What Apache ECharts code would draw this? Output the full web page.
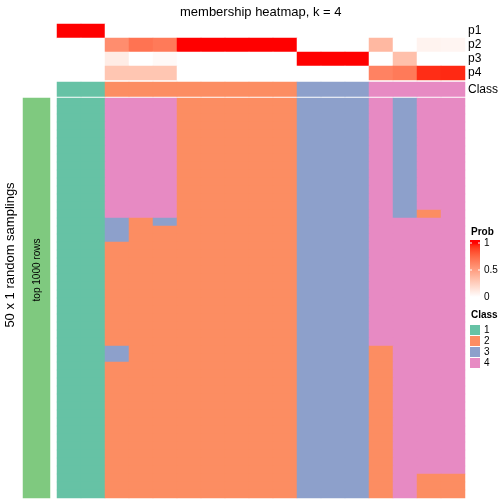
<!DOCTYPE html>
<html><head><meta charset="utf-8">
<script src="https://cdn.jsdelivr.net/npm/echarts@6/dist/echarts.min.js"></script>
<style>html,body{margin:0;padding:0;background:#fff}#c{width:504px;height:504px}</style>
</head><body><div id="c"></div>
<script>
// ---------- data ----------
const columns = ['s1','s2','s3','s4','s5','s6','s7','s8','s9','s10','s11','s12','s13','s14','s15','s16','s17'];
const probNames = ['p1','p2','p3','p4'];
const p1 = [1,1,0,0,0,0,0,0,0,0,0,0,0,0,0,0,0];
const p2 = [0,0,0.58,0.70,0.67,1,1,1,1,1,0,0,0,0.37,0,0.06,0.05];
const p3 = [0,0,0.10,0,0.03,0,0,0,0,0,1,1,1,0,0.33,0,0];
const p4 = [0,0,0.30,0.30,0.30,0,0,0,0,0,0,0,0,0.63,0.67,0.94,0.95];
const classRow = [1,1,2,2,2,2,2,2,2,2,3,3,3,4,4,4,4];
const classNames = ['1','2','3','4'];
const probTicks = ['1','0.5','0'];
// 50 random samplings (rows), one class digit per column
const samplings = [
'11444222223334344','11444222223334344','11444222223334344','11444222223334344','11444222223334344',
'11444222223334344','11444222223334344','11444222223334344','11444222223334344','11444222223334344',
'11444222223334344','11444222223334344','11444222223334344','11444222223334344','11444222223334324',
'11323222223334444','11322222223334444','11322222223334444','11222222223334444','11222222223334444',
'11222222223334444','11222222223334444','11222222223334444','11222222223334444','11222222223334444',
'11222222223334444','11222222223334444','11222222223334444','11222222223334444','11222222223334444',
'11222222223334444','11322222223332444','11322222223332444','11222222223332444','11222222223332444',
'11222222223332444','11222222223332444','11222222223332444','11222222223332444','11222222223332444',
'11222222223332444','11222222223332444','11222222223332444','11222222223332444','11222222223332444',
'11222222223332444','11222222223332444','11222222223332422','11222222223332422','11222222223332422'
];

// ---------- style helpers ----------
const FONT = '"Liberation Sans", Arial, sans-serif';
const classColors = ['#66C2A5','#FC8D62','#8DA0CB','#E78AC3'];
function srgb2lin(c){c/=255;return c<=0.04045?c/12.92:Math.pow((c+0.055)/1.055,2.4);}
function lin2srgb(c){c=c<=0.0031308?12.92*c:1.055*Math.pow(c,1/2.4)-0.055;return Math.max(0,Math.min(255,Math.round(c*255)));}
function rgb2lab(r,g,b){
  const R=srgb2lin(r),G=srgb2lin(g),B=srgb2lin(b);
  let X=(0.4124*R+0.3576*G+0.1805*B)/0.95047,Y=(0.2126*R+0.7152*G+0.0722*B),Z=(0.0193*R+0.1192*G+0.9505*B)/1.08883;
  const f=t=>t>0.008856?Math.cbrt(t):7.787*t+16/116;
  const fx=f(X),fy=f(Y),fz=f(Z);
  return [116*fy-16,500*(fx-fy),200*(fy-fz)];
}
function lab2rgb(L,a,b){
  const fy=(L+16)/116,fx=fy+a/500,fz=fy-b/200;
  const fi=t=>t*t*t>0.008856?t*t*t:(t-16/116)/7.787;
  const X=fi(fx)*0.95047,Y=fi(fy),Z=fi(fz)*1.08883;
  const R=3.2406*X-1.5372*Y-0.4986*Z,G=-0.9689*X+1.8758*Y+0.0415*Z,B=0.0557*X-0.2040*Y+1.0570*Z;
  return 'rgb('+lin2srgb(R)+','+lin2srgb(G)+','+lin2srgb(B)+')';
}
const labW=rgb2lab(255,255,255),labR=rgb2lab(255,0,0);
const rampColors=[];
for(let i=0;i<=20;i++){const t=i/20;rampColors.push(lab2rgb(labW[0]+(labR[0]-labW[0])*t,labW[1]+(labR[1]-labW[1])*t,labW[2]+(labR[2]-labW[2])*t));}
// gradient for the legend bar: 1 at y=243, 0 at y=297 inside a 240..300 bar
const legendStops=[{offset:0,color:rampColors[20]}];
for(let i=20;i>=0;i--){legendStops.push({offset:(3+54*(20-i)/20)/60,color:rampColors[i]});}
legendStops.push({offset:1,color:rampColors[0]});

// ---------- build series data ----------
const probArrays=[p1,p2,p3,p4];
const probData=[];
probArrays.forEach((arr,r)=>arr.forEach((v,c)=>probData.push([c,r,v])));
const classData=classRow.map((v,c)=>[c,0,v]);
const rowIds=samplings.map((s,i)=>'r'+(i+1));
const mainData=[];
samplings.forEach((s,r)=>{for(let c=0;c<s.length;c++)mainData.push([c,r,+s[c]]);});

const hiddenCat=(data,extra)=>Object.assign({type:'category',data:data,show:false,axisTick:{show:false},axisLine:{show:false}},extra||{});
const rowLabel={show:true,interval:0,margin:3,fontSize:12,color:'#000',fontFamily:FONT};

const option={
  animation:false,
  title:{text:'membership heatmap, k = 4',left:180,top:6,padding:0,
    textStyle:{fontSize:13,fontWeight:'normal',color:'#000',fontFamily:FONT}},
  grid:[
    {left:57,top:24,width:408,height:56},
    {left:57,top:82,width:408,height:14.5},
    {left:57,top:98,width:408,height:400},
    {left:23,top:98,width:27,height:400}
  ],
  xAxis:[
    hiddenCat(columns,{gridIndex:0}),
    hiddenCat(columns,{gridIndex:1}),
    hiddenCat(columns,{gridIndex:2}),
    hiddenCat(['bar'],{gridIndex:3})
  ],
  yAxis:[
    {type:'category',gridIndex:0,data:probNames,inverse:true,position:'right',
     axisLine:{show:false},axisTick:{show:false},axisLabel:rowLabel},
    {type:'category',gridIndex:1,data:['Class'],position:'right',
     axisLine:{show:false},axisTick:{show:false},axisLabel:rowLabel},
    hiddenCat(rowIds,{gridIndex:2,inverse:true}),
    hiddenCat(['top 1000 rows'],{gridIndex:3})
  ],
  visualMap:[
    {type:'continuous',min:0,max:1,seriesIndex:0,dimension:2,show:false,inRange:{color:rampColors}},
    {type:'piecewise',seriesIndex:[1,2],dimension:2,orient:'vertical',left:470,top:325,inverse:true,
     itemWidth:10,itemHeight:10,itemGap:1,itemSymbol:'rect',textGap:4,padding:0,
     selectedMode:false,hoverLink:false,align:'left',
     textStyle:{fontSize:10,color:'#000',fontFamily:FONT},
     pieces:classNames.map((n,i)=>({value:+n,label:n,color:classColors[i]}))}
  ],
  series:[
    {type:'heatmap',xAxisIndex:0,yAxisIndex:0,data:probData},
    {type:'heatmap',xAxisIndex:1,yAxisIndex:1,data:classData},
    {type:'heatmap',xAxisIndex:2,yAxisIndex:2,data:mainData},
    {type:'heatmap',xAxisIndex:3,yAxisIndex:3,data:[{value:[0,0,1],itemStyle:{color:'#7FC97F'}}]}
  ],
  graphic:[
    {type:'text',x:10,y:255,rotation:Math.PI/2,z:100,
     style:{text:'50 x 1 random samplings',font:'13px '+FONT,fill:'#000',textAlign:'center',textVerticalAlign:'middle'}},
    {type:'text',x:37,y:270,rotation:Math.PI/2,z:100,
     style:{text:'top 1000 rows',font:'10px '+FONT,fill:'#000',textAlign:'center',textVerticalAlign:'middle'}},
    {type:'text',x:471,y:232,z:100,style:{text:'Prob',font:'bold 10px '+FONT,fill:'#000',textVerticalAlign:'middle'}},
    {type:'rect',z:100,shape:{x:470,y:240,width:10,height:60},
     style:{fill:{type:'linear',x:0,y:0,x2:0,y2:1,colorStops:legendStops}}},
    ...probTicks.map((t,i)=>({type:'text',z:100,x:484,y:243+27*i,style:{text:t,font:'10px '+FONT,fill:'#000',textVerticalAlign:'middle'}})),
    ...probTicks.map((t,i)=>({type:'line',z:101,shape:{x1:470,y1:243+27*i,x2:472,y2:243+27*i},style:{stroke:'#fff',lineWidth:1}})),
    ...probTicks.map((t,i)=>({type:'line',z:101,shape:{x1:478,y1:243+27*i,x2:480,y2:243+27*i},style:{stroke:'#fff',lineWidth:1}})),
    {type:'text',x:471,y:315,z:100,style:{text:'Class',font:'bold 10px '+FONT,fill:'#000',textVerticalAlign:'middle'}}
  ]
};
const chart=echarts.init(document.getElementById('c'),null,{renderer:'canvas'});
chart.setOption(option);
</script></body></html>
